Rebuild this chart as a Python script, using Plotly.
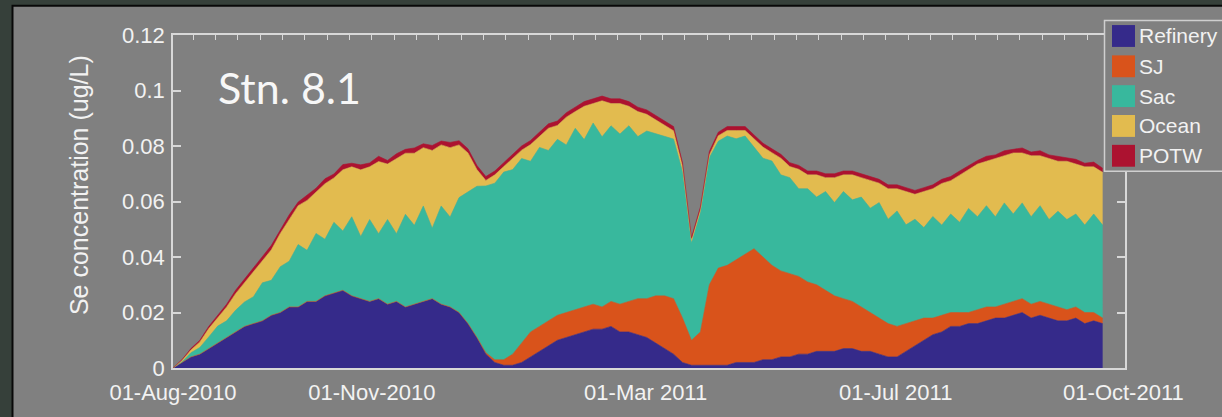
import pandas as pd
import plotly.graph_objects as go

# ---- data: Se source contributions at Stn. 8.1, sampled every 4 days ----
dates = pd.date_range("2010-08-01", periods=105, freq="4D")

refinery = [
    0, .002, .004, .005, .007, .009, .011, .013, .015, .016,
    .017, .019, .020, .022, .022, .024, .024, .026, .027, .028,
    .026, .025, .024, .025, .023, .024, .022, .023, .024, .025,
    .023, .022, .020, .016, .011, .005, .002, .001, .001, .002,
    .004, .006, .008, .010, .011, .012, .013, .014, .014, .015,
    .013, .013, .012, .011, .009, .007, .005, .002, .001, .001,
    .001, .001, .001, .002, .002, .002, .003, .003, .004, .004,
    .005, .005, .006, .006, .006, .007, .007, .006, .006, .005,
    .004, .004, .006, .008, .010, .012, .013, .015, .015, .016,
    .016, .017, .018, .018, .019, .020, .018, .019, .018, .017,
    .017, .018, .016, .017, .016,
]
sj = [0] * 35 + [
    .0005, .001, .002, .004, .007,
    .009, .009, .009, .009, .009, .009, .009, .009, .008, .009,
    .010, .011, .013, .014, .017, .019, .020, .016, .009, .012,
    .029, .035, .036, .037, .039, .041, .037, .034, .031, .030,
    .028, .026, .024, .022, .020, .018, .017, .016, .014, .013,
    .012, .011, .010, .009, .008, .006, .006, .005, .005, .004,
    .005, .005, .004, .005, .005, .005, .005, .005, .005, .005,
    .004, .004, .004, .003, .002,
]
sac = [
    0, .0002, .0015, .0024, .0042, .0061, .006, .0078, .0088, .0097,
    .0137, .0126, .0165, .0165, .0225, .0184, .0245, .0204, .0255, .0214,
    .0285, .0224, .0295, .0234, .0305, .0244, .0334, .0284, .0344, .0254,
    .0354, .0324, .0414, .0475, .0545, .0601, .0636, .0676, .0665, .0665,
    .0615, .0645, .0614, .0634, .0604, .0654, .0603, .0653, .0613, .0633,
    .0613, .0633, .0584, .0604, .0584, .0574, .0575, .0527, .035, .043,
    .0458, .0457, .0466, .0436, .0426, .0366, .0356, .0376, .0346, .0346,
    .0316, .0336, .0316, .0356, .0336, .0386, .0366, .0396, .0376, .0416,
    .0376, .0416, .0356, .0366, .0326, .0366, .0325, .0355, .0325, .0375,
    .0335, .0365, .0325, .0365, .0315, .0345, .0315, .0345, .0305, .0345,
    .0325, .0335, .0315, .0355, .0335,
]
ocean = [
    0, .0005, .001, .002, .003, .003, .005, .006, .007, .009,
    .008, .011, .012, .015, .014, .018, .015, .020, .016, .022,
    .018, .024, .019, .026, .020, .027, .022, .026, .021, .028,
    .022, .025, .019, .014, .006, .002, .003, .002, .004, .003,
    .006, .004, .008, .005, .010, .006, .012, .007, .013, .008,
    .011, .007, .009, .006, .005, .004, .003, .002, .001, .001,
    .001, .002, .002, .003, .002, .003, .004, .003, .006, .004,
    .007, .005, .008, .005, .009, .006, .009, .007, .010, .007,
    .011, .008, .012, .009, .013, .010, .015, .012, .017, .014,
    .019, .016, .021, .017, .022, .018, .022, .018, .022, .018,
    .021, .018, .021, .017, .019,
]
potw = [
    0, .0003, .0005, .0006, .0008, .0009, .001, .0012, .0012, .0013,
    .0013, .0016, .0012, .0017, .0013, .0018, .0013, .0018, .0014, .0019,
    .0013, .0018, .0014, .0019, .0013, .0018, .0014, .0019, .0014, .0018,
    .0014, .0019, .0015, .0015, .0015, .0014, .0014, .0014, .0015, .0015,
    .0015, .0015, .0016, .0016, .0016, .0016, .0017, .0017, .0017, .0017,
    .0017, .0017, .0016, .0016, .0016, .0016, .0015, .0013, .001, .001,
    .0012, .0013, .0014, .0014, .0014, .0014, .0014, .0014, .0014, .0014,
    .0014, .0014, .0014, .0014, .0014, .0014, .0014, .0014, .0014, .0014,
    .0014, .0014, .0014, .0014, .0014, .0014, .0015, .0015, .0015, .0015,
    .0013, .0018, .0013, .0018, .0013, .0018, .0013, .0018, .0013, .0018,
    .0013, .0017, .0013, .0017, .0015,
]

series_names = ["Refinery", "SJ", "Sac", "Ocean", "POTW"]
series_values = [refinery, sj, sac, ocean, potw]
series_colors = ["#352a8a", "#d9531b", "#38b89d", "#e2bb4f", "#ac1230"]

x_tick_dates = ["2010-08-01", "2010-10-29", "2011-02-28 12:00",
                "2011-06-20 10:00", "2011-09-30 07:00"]
x_tick_text = ["01-Aug-2010", "01-Nov-2010", "01-Mar 2011",
               "01-Jul 2011", "01-Oct-2011"]
y_tick_vals = [0, 0.02, 0.04, 0.06, 0.08, 0.10, 0.12]
y_tick_text = ["0", "0.02", "0.04", "0.06", "0.08", "0.1", "0.12"]
top_minor_ticks = pd.date_range("2010-08-10", "2011-09-30", freq="10D")

# ---- layout geometry (pixels) ----
W, H = 1222, 417
L, R, T, B = 173, 1125, 35, 370


def px_x(p):
    return (p - L) / (R - L)


def px_y(p):
    return (B - p) / (B - T)


BG = "#808080"
FRAME = "#36403a"
AXIS = "#d8d8d8"
TEXT = "#f2f2f2"
FONT = "Liberation Sans, Arial, sans-serif"

fig = go.Figure()
for name, vals, col in zip(series_names, series_values, series_colors):
    fig.add_trace(go.Scatter(
        x=dates, y=vals, name=name, stackgroup="one", mode="lines",
        line=dict(width=0.6, color=col), fillcolor=col,
        showlegend=False, hoverinfo="skip",
    ))
# carrier for the top minor-tick axis
fig.add_trace(go.Scatter(x=[], y=[], xaxis="x2", showlegend=False))

shapes = [
    # grey panel with a dark edge
    dict(type="rect", xref="paper", yref="paper", layer="below",
         x0=px_x(12.5), x1=px_x(1260), y0=px_y(440), y1=px_y(5.5),
         fillcolor=BG, line=dict(color="#080808", width=2)),
    # legend box
    dict(type="rect", xref="paper", yref="paper", layer="above",
         x0=px_x(1104.5), x1=px_x(1260), y0=px_y(172), y1=px_y(20.5),
         fillcolor=BG, line=dict(color="#cfcfcf", width=1.5)),
]
annotations = []
row_centers = [36, 66.5, 96.5, 126.5, 156.5]
for name, col, cy in zip(series_names, series_colors, row_centers):
    shapes.append(dict(type="rect", xref="paper", yref="paper", layer="above",
                       x0=px_x(1112), x1=px_x(1135),
                       y0=px_y(cy + 11), y1=px_y(cy - 11),
                       fillcolor=col, line=dict(width=0)))
    annotations.append(dict(xref="paper", yref="paper", x=px_x(1137),
                            y=px_y(cy), xanchor="left", yanchor="middle",
                            text=name, showarrow=False,
                            font=dict(family=FONT, size=21, color=TEXT)))

annotations.append(dict(xref="paper", yref="paper", x=px_x(79), y=px_y(186),
                        xanchor="center", yanchor="middle", textangle=-90,
                        text="Se concentration (ug/L)", showarrow=False,
                        font=dict(family=FONT, size=25, color=TEXT)))
annotations.append(dict(xref="paper", yref="paper", x=px_x(216), y=px_y(88),
                        xanchor="left", yanchor="middle", text="Stn. 8.1",
                        showarrow=False,
                        font=dict(family="Lato, Open Sans, sans-serif",
                                  size=43, color="#f7f7f7")))

fig.update_layout(
    width=W, height=H,
    margin=dict(l=L, r=W - R, t=T, b=H - B, pad=0),
    paper_bgcolor=FRAME, plot_bgcolor=BG,
    showlegend=False,
    shapes=shapes, annotations=annotations,
    xaxis=dict(type="date", range=["2010-08-01", "2011-10-01"],
               tickvals=x_tick_dates, ticktext=x_tick_text,
               ticks="", showgrid=False, zeroline=False,
               showline=True, mirror=True, linecolor=AXIS, linewidth=1.5,
               tickfont=dict(family=FONT, size=22, color=TEXT),
               ticklabelstandoff=4),
    xaxis2=dict(type="date", range=["2010-08-01", "2011-10-01"],
                overlaying="x", side="top", anchor="y",
                tickvals=list(top_minor_ticks), showticklabels=False,
                ticks="inside", ticklen=5, tickwidth=1.2, tickcolor=AXIS,
                showgrid=False, zeroline=False, showline=False),
    yaxis=dict(range=[0, 0.12], tickvals=y_tick_vals, ticktext=y_tick_text,
               ticks="inside", ticklen=8, tickwidth=1.5, tickcolor=AXIS,
               showgrid=False, zeroline=False,
               showline=True, mirror="ticks", linecolor=AXIS, linewidth=1.5,
               tickfont=dict(family=FONT, size=22, color=TEXT),
               ticklabelstandoff=2),
)

fig.write_html("out.html")
